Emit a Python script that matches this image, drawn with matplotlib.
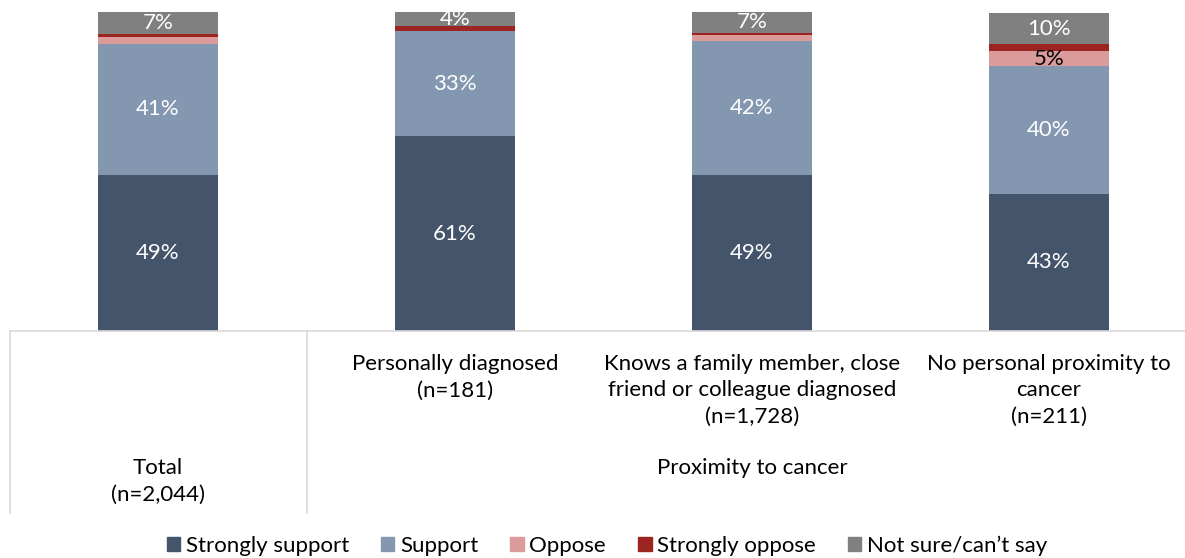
import matplotlib
matplotlib.use('Agg')
import matplotlib.pyplot as plt
import matplotlib.patches as mpatches
import numpy as np

plt.rcParams['font.family'] = ['Lato', 'DejaVu Sans']

# ------------------------------- data
categories = ['Total\n(n=2,044)',
              'Personally diagnosed\n(n=181)',
              'Knows a family member, close\nfriend or colleague diagnosed\n(n=1,728)',
              'No personal proximity to\ncancer\n(n=211)']
group_label = 'Proximity to cancer'
series = ['Strongly support', 'Support', 'Oppose', 'Strongly oppose',
          'Not sure/can\u2019t say']
strongly_support = [49, 61, 49, 43]
support = [41, 33, 42, 40]
oppose = [2.1, 0, 1.9, 4.7]
strongly_oppose = [0.9, 1.5, 0.6, 2.2]
not_sure = [7, 4.5, 6.6, 9.7]
colors = ['#44546A', '#8497B0', '#DB9B9B', '#9C2521', '#808080']
label_colors = ['white', 'white', 'black', 'white', 'white']

values = [strongly_support, support, oppose, strongly_oppose, not_sure]

FS = 16
W, H = 1185, 558
fig = plt.figure(figsize=(W / 100, H / 100), dpi=100)
# axes: left edge at 9.5px, bottom at 331px, top at 12px
ax = fig.add_axes([9.5 / W, (H - 331) / H, (W - 9.5) / W, (331 - 12) / H])

x = np.arange(len(categories))
bottom = np.zeros(len(categories))
for vals, col, lc, name in zip(values, colors, label_colors, series):
    vals = np.array(vals, dtype=float)
    ax.bar(x, vals, 0.405, bottom=bottom, color=col, label=name,
           edgecolor='none')
    for xi, b, v in zip(x, bottom, vals):
        show = name in ('Strongly support', 'Support', 'Not sure/can\u2019t say') or v >= 4.5
        if show and v > 0:
            ax.text(xi, b + v / 2, f'{round(v):.0f}%', ha='center',
                    va='center', color=lc, fontsize=FS)
    bottom += vals

ax.set_xlim(-0.5, -0.5 + (W - 9.5) / 297)
ax.set_ylim(0, 100)
for s in ['top', 'right', 'left']:
    ax.spines[s].set_visible(False)
ax.spines['bottom'].set_color('#D9D9D9')
ax.spines['bottom'].set_linewidth(1.2)
ax.set_xticks([])
ax.set_yticks([])

# category table below the axis
tr = ax.get_xaxis_transform()
depth = -(513 - 331) / (331 - 12)
for xv in [-0.5, 0.5]:
    ax.plot([xv, xv], [0, depth], transform=tr, color='#D9D9D9', lw=1.2,
            clip_on=False)

top_y = -(354 - 331) / (331 - 12)
for xi, lab in zip(x[1:], categories[1:]):
    ax.text(xi, top_y, lab, transform=tr, ha='center', va='top',
            fontsize=FS, linespacing=1.4)
low_y = -(458 - 331) / (331 - 12)
ax.text(x[0], low_y, categories[0], transform=tr, ha='center', va='top',
        fontsize=FS, linespacing=1.4)
ax.text(np.mean(x[1:]), low_y, group_label, transform=tr, ha='center',
        va='top', fontsize=FS)

handles = [mpatches.Patch(color=c, label=n) for c, n in zip(colors, series)]
fig.legend(handles=handles, loc='center', ncol=5,
           bbox_to_anchor=(607 / W, 1 - 546 / H), frameon=False,
           fontsize=FS, handlelength=0.6, handleheight=0.6,
           handletextpad=0.25, columnspacing=1.45, borderaxespad=0)

fig.savefig('out.png', dpi=100)
